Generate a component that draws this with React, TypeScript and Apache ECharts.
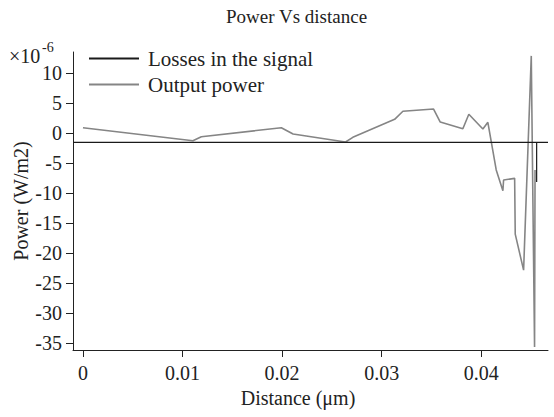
import React, { useEffect, useRef } from "react";
import * as echarts from "echarts";

const distance = [0, 0.01104, 0.01189, 0.01992, 0.0211, 0.02637, 0.0271, 0.0313, 0.03213, 0.03521, 0.03588, 0.03815, 0.03875, 0.04016, 0.04066, 0.0415, 0.04217, 0.04224, 0.04335, 0.04341, 0.04425, 0.04502, 0.04535, 0.0454];
const outputPower = [0.93, -1.23, -0.56, 0.93, -0.12, -1.45, -0.67, 2.33, 3.67, 4.05, 1.88, 0.77, 3.17, 0.72, 1.83, -6.1, -9.56, -7.78, -7.5, -16.8, -22.8, 12.9, -35.6, -6.1];
const lossDistance = [-0.001, 0.04556, 0.04556, 0.04556, 0.0467];
const losses = [-1.5, -1.5, -8.1, -1.5, -1.5];
const yTicks = [-35, -30, -25, -20, -15, -10, -5, 0, 5, 10];
const xTicks = [0, 0.01, 0.02, 0.03, 0.04];

const FONT = '"Liberation Serif", "Times New Roman", serif';

export default function App() {
  const ref = useRef<HTMLDivElement>(null);
  useEffect(() => {
    const chart = echarts.init(ref.current!, undefined, { renderer: "svg" });
    chart.setOption({
      animation: false,
      backgroundColor: "#fff",
      textStyle: { fontFamily: FONT },
      grid: { left: 73, right: 6, top: 52, bottom: 67 },
      legend: {
        orient: "vertical",
        left: 84,
        top: 43,
        itemWidth: 50,
        itemHeight: 2,
        itemGap: 5,
        icon: "rect",
        textStyle: { fontFamily: FONT, fontSize: 21, color: "#222", padding: [0, 0, 0, 4] },
        data: ["Losses in the signal", "Output power"],
      },
      xAxis: {
        type: "value",
        min: -0.001,
        max: 0.0467,
        axisLine: { onZero: false, lineStyle: { color: "#222", width: 1 } },
        axisTick: { customValues: xTicks, length: 7, lineStyle: { color: "#222" } },
        axisLabel: {
          customValues: xTicks,
          margin: 13,
          fontSize: 20,
          color: "#222",
          fontFamily: FONT,
          formatter: (v: number) => String(+v.toFixed(3)),
        },
        splitLine: { show: false },
      },
      yAxis: {
        type: "value",
        min: -36.1,
        max: 13.55,
        axisLine: { show: true, onZero: false, lineStyle: { color: "#222", width: 1 } },
        axisTick: { show: true, customValues: yTicks, length: 7, lineStyle: { color: "#222" } },
        axisLabel: { customValues: yTicks, margin: 11, fontSize: 20, color: "#222", fontFamily: FONT },
        splitLine: { show: false },
      },
      graphic: [
        {
          type: "text",
          left: 226,
          top: 7,
          style: { text: "Power Vs distance", font: `19px ${FONT}`, fill: "#222" },
        },
        {
          type: "text",
          x: 298,
          y: 398,
          style: { text: "Distance (\u03bcm)", font: `20px ${FONT}`, fill: "#222", textAlign: "center", textVerticalAlign: "middle" },
        },
        {
          type: "text",
          x: 21,
          y: 201,
          rotation: Math.PI / 2,
          style: { text: "Power (W/m2)", font: `20px ${FONT}`, fill: "#222", textAlign: "center", textVerticalAlign: "middle" },
        },
        {
          type: "text",
          x: 9,
          y: 56,
          style: { text: "\u00d710", font: `20px ${FONT}`, fill: "#222", textAlign: "left", textVerticalAlign: "middle" },
        },
        {
          type: "text",
          x: 42,
          y: 47,
          style: { text: "-6", font: `14px ${FONT}`, fill: "#222", textAlign: "left", textVerticalAlign: "middle" },
        },
      ],
      series: [
        {
          name: "Losses in the signal",
          type: "line",
          data: lossDistance.map((d, i) => [d, losses[i]]),
          symbol: "none",
          lineStyle: { color: "#1a1a1a", width: 1.2 },
          itemStyle: { color: "#1a1a1a" },
          z: 3,
        },
        {
          name: "Output power",
          type: "line",
          data: distance.map((d, i) => [d, outputPower[i]]),
          symbol: "none",
          lineStyle: { color: "#858585", width: 1.6 },
          itemStyle: { color: "#858585" },
          z: 2,
        },
      ],
    });
    return () => chart.dispose();
  }, []);
  return <div ref={ref} style={{ width: 554, height: 417, position: "absolute", left: 0, top: 0 }} />;
}
